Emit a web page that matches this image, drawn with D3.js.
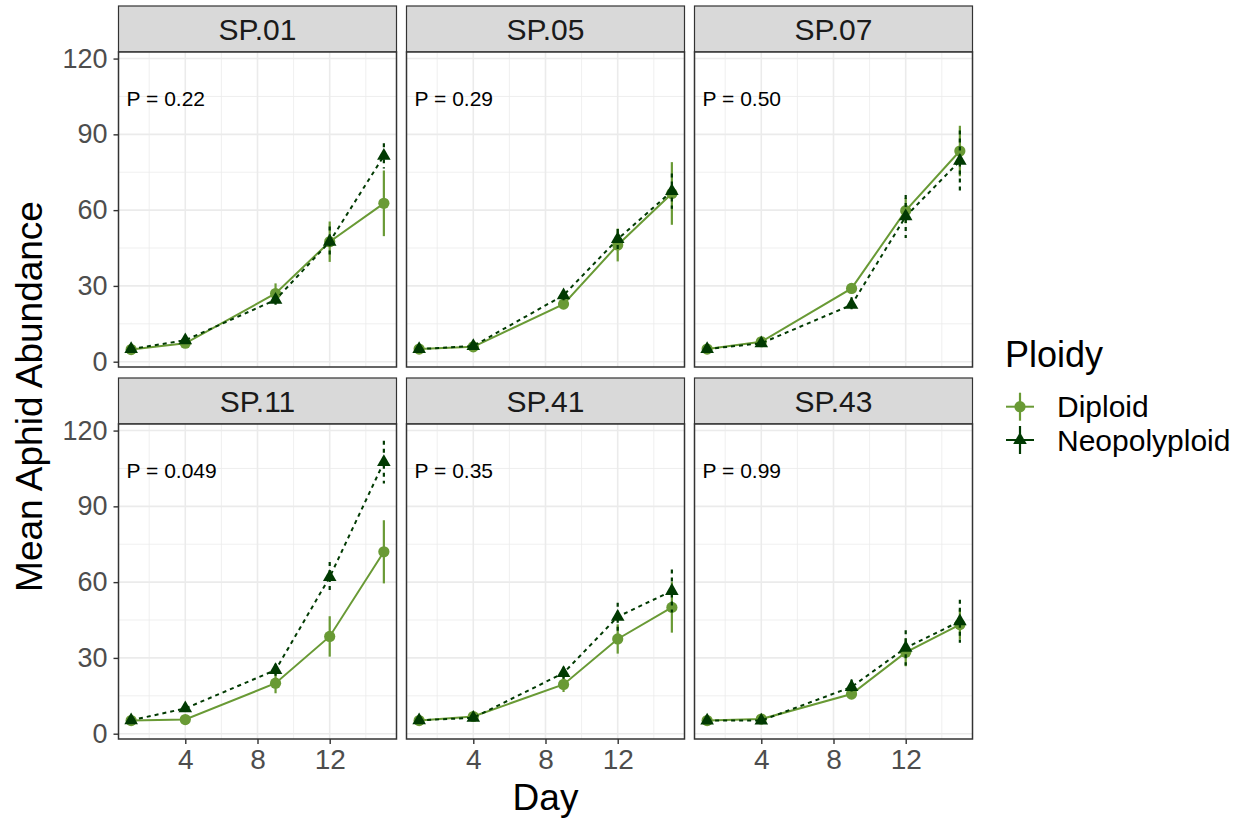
<!DOCTYPE html>
<html>
<head>
<meta charset="utf-8">
<script src="https://cdn.jsdelivr.net/npm/d3@7"></script>
<style>
  body { margin: 0; background: #fff; }
  text { font-family: "Liberation Sans", Arial, sans-serif; }
</style>
</head>
<body>
<div id="chart"></div>
<script>
// facet names and p-value labels
var panels = ["SP.01", "SP.05", "SP.07", "SP.11", "SP.41", "SP.43"];
var pLabels = ["P = 0.22", "P = 0.29", "P = 0.50", "P = 0.049", "P = 0.35", "P = 0.99"];

var days = [1, 4, 9, 12, 15];
var xTicks = [4, 8, 12];
var xMinor = [2, 6, 10, 14];
var yTicks = [0, 30, 60, 90, 120];
var yMinor = [15, 45, 75, 105];

// mean aphid abundance and standard error, one row per panel
var diploidMean = [
  [4.8, 7.3, 27.0, 47.5, 62.7],
  [5.0, 5.9, 22.8, 46.2, 66.6],
  [5.0, 7.9, 29.0, 59.8, 83.4],
  [5.2, 5.6, 20.0, 38.5, 72.0],
  [5.2, 6.8, 19.5, 37.5, 50.0],
  [5.2, 5.8, 15.7, 32.2, 43.2]
];
var diploidSE = [
  [0.8, 1.0, 4.0, 8.0, 13.0],
  [0.6, 0.8, 2.0, 6.5, 12.4],
  [0.6, 1.0, 2.0, 5.0, 10.0],
  [0.6, 0.8, 4.0, 8.0, 12.5],
  [0.6, 0.8, 3.0, 5.8, 10.0],
  [0.6, 0.8, 2.0, 5.5, 6.0]
];
var neoMean = [
  [5.0, 8.5, 24.5, 47.5, 81.5],
  [5.0, 6.2, 26.3, 48.5, 67.5],
  [5.0, 7.3, 22.5, 57.5, 79.5],
  [5.3, 10.0, 25.2, 62.0, 107.5],
  [5.3, 6.3, 24.0, 46.3, 56.5],
  [5.2, 5.2, 18.5, 34.0, 44.5]
];
var neoSE = [
  [0.8, 1.0, 2.0, 6.0, 5.0],
  [0.6, 0.8, 2.0, 4.0, 7.0],
  [0.6, 1.0, 3.0, 8.5, 12.0],
  [0.6, 1.0, 2.5, 6.0, 8.5],
  [0.6, 0.8, 2.5, 5.5, 8.5],
  [0.6, 0.8, 3.0, 7.0, 8.5]
];

var groups = ["Diploid", "Neopolyploid"];
var colors = { Diploid: "#699a35", Neopolyploid: "#013a02" };

var width = 1243;
var height = 818;
var panelW = 278;
var panelH = 315;
var stripH = 46;
var colLeft = [118.5, 406.5, 694.5];
var rowTop = [6, 378];

var xScale = d3.scaleLinear().domain([0.3, 15.7]).range([0, panelW]);
var yScale = d3.scaleLinear().domain([-2.1, 122.6]).range([panelH, 0]);

var svg = d3.select("#chart")
  .append("svg")
  .attr("width", width)
  .attr("height", height);

var symTri = d3.symbol().type(d3.symbolTriangle).size(80);
var line = d3.line()
  .x(function (d) { return xScale(d.day); })
  .y(function (d) { return yScale(d.mean); });

panels.forEach(function (name, i) {
  var col = i % 3;
  var row = Math.floor(i / 3);
  var g = svg.append("g")
    .attr("transform", "translate(" + colLeft[col] + "," + (rowTop[row] + stripH) + ")");

  // strip
  g.append("rect")
    .attr("x", 0).attr("y", -stripH)
    .attr("width", panelW).attr("height", stripH)
    .attr("fill", "#d9d9d9").attr("stroke", "#333333").attr("stroke-width", 1.2);
  g.append("text")
    .attr("x", panelW / 2).attr("y", -stripH / 2 + 10.5)
    .attr("text-anchor", "middle")
    .attr("font-size", 30).attr("fill", "#1a1a1a")
    .text(name);

  // grid
  g.append("rect").attr("width", panelW).attr("height", panelH).attr("fill", "#fff");
  g.selectAll(".ymin").data(yMinor).enter().append("line")
    .attr("x1", 0).attr("x2", panelW)
    .attr("y1", yScale).attr("y2", yScale)
    .attr("stroke", "#ebebeb").attr("stroke-width", 0.8);
  g.selectAll(".xmin").data(xMinor).enter().append("line")
    .attr("y1", 0).attr("y2", panelH)
    .attr("x1", xScale).attr("x2", xScale)
    .attr("stroke", "#ebebeb").attr("stroke-width", 0.8);
  g.selectAll(".ymaj").data(yTicks).enter().append("line")
    .attr("x1", 0).attr("x2", panelW)
    .attr("y1", yScale).attr("y2", yScale)
    .attr("stroke", "#ebebeb").attr("stroke-width", 1.6);
  g.selectAll(".xmaj").data(xTicks).enter().append("line")
    .attr("y1", 0).attr("y2", panelH)
    .attr("x1", xScale).attr("x2", xScale)
    .attr("stroke", "#ebebeb").attr("stroke-width", 1.6);

  var dip = days.map(function (d, j) {
    return { day: d, mean: diploidMean[i][j], se: diploidSE[i][j] };
  });
  var neo = days.map(function (d, j) {
    return { day: d, mean: neoMean[i][j], se: neoSE[i][j] };
  });

  // diploid series
  g.append("path").datum(dip)
    .attr("d", line).attr("fill", "none")
    .attr("stroke", colors.Diploid).attr("stroke-width", 2);
  g.selectAll(".dipErr").data(dip).enter().append("line")
    .attr("x1", function (d) { return xScale(d.day); })
    .attr("x2", function (d) { return xScale(d.day); })
    .attr("y1", function (d) { return yScale(d.mean - d.se); })
    .attr("y2", function (d) { return yScale(d.mean + d.se); })
    .attr("stroke", colors.Diploid).attr("stroke-width", 2.2);
  g.selectAll(".dipPt").data(dip).enter().append("circle")
    .attr("cx", function (d) { return xScale(d.day); })
    .attr("cy", function (d) { return yScale(d.mean); })
    .attr("r", 5.6).attr("fill", colors.Diploid);

  // neopolyploid series
  g.append("path").datum(neo)
    .attr("d", line).attr("fill", "none")
    .attr("stroke", colors.Neopolyploid).attr("stroke-width", 2)
    .attr("stroke-dasharray", "4,4");
  g.selectAll(".neoErr").data(neo).enter().append("line")
    .attr("x1", function (d) { return xScale(d.day); })
    .attr("x2", function (d) { return xScale(d.day); })
    .attr("y1", function (d) { return yScale(d.mean + d.se); })
    .attr("y2", function (d) { return yScale(d.mean - d.se); })
    .attr("stroke", colors.Neopolyploid).attr("stroke-width", 2.2)
    .attr("stroke-dasharray", "4,4");
  g.selectAll(".neoPt").data(neo).enter().append("path")
    .attr("d", symTri)
    .attr("transform", function (d) {
      return "translate(" + xScale(d.day) + "," + yScale(d.mean) + ")";
    })
    .attr("fill", colors.Neopolyploid);

  // p value
  g.append("text")
    .attr("x", xScale(0.75)).attr("y", yScale(104) + 7.5)
    .attr("font-size", 21).attr("fill", "#000")
    .text(pLabels[i]);

  // border
  g.append("rect").attr("width", panelW).attr("height", panelH)
    .attr("fill", "none").attr("stroke", "#333333").attr("stroke-width", 1.5);

  if (col === 0) {
    var yAxis = d3.axisLeft(yScale).tickValues(yTicks).tickSize(5).tickPadding(6);
    var gy = g.append("g").call(yAxis);
    gy.select(".domain").remove();
    gy.selectAll(".tick line").attr("stroke", "#333333").attr("stroke-width", 1.4);
    gy.selectAll(".tick text").attr("font-size", 27).attr("fill", "#4d4d4d")
      .attr("font-family", "Liberation Sans, Arial, sans-serif");
  }
  if (row === 1) {
    var xAxis = d3.axisBottom(xScale).tickValues(xTicks).tickSize(5).tickPadding(5);
    var gx = g.append("g").attr("transform", "translate(0," + panelH + ")").call(xAxis);
    gx.select(".domain").remove();
    gx.selectAll(".tick line").attr("stroke", "#333333").attr("stroke-width", 1.4);
    gx.selectAll(".tick text").attr("font-size", 28).attr("fill", "#4d4d4d")
      .attr("font-family", "Liberation Sans, Arial, sans-serif");
  }
});

// axis titles
svg.append("text")
  .attr("x", (colLeft[0] + colLeft[2] + panelW) / 2).attr("y", 810)
  .attr("text-anchor", "middle").attr("font-size", 37).attr("fill", "#000")
  .text("Day");
svg.append("text")
  .attr("transform", "translate(42," + ((rowTop[0] + rowTop[1] + stripH + panelH) / 2 + 24) + ") rotate(-90)")
  .attr("text-anchor", "middle").attr("font-size", 37).attr("fill", "#000")
  .text("Mean Aphid Abundance");

// legend
var legend = svg.append("g").attr("transform", "translate(1005,0)");
legend.append("text")
  .attr("x", 0).attr("y", 367)
  .attr("font-size", 36).attr("fill", "#000")
  .text("Ploidy");

var keyY = [406.7, 440];
groups.forEach(function (grp, k) {
  var kg = legend.append("g").attr("transform", "translate(15," + keyY[k] + ")");
  kg.append("line").attr("x1", -14).attr("x2", 14)
    .attr("stroke", colors[grp]).attr("stroke-width", 2);
  kg.append("line").attr("y1", -14).attr("y2", 14)
    .attr("stroke", colors[grp]).attr("stroke-width", 2.2);
  if (grp === "Diploid") {
    kg.append("circle").attr("r", 5.6).attr("fill", colors[grp]);
  } else {
    kg.append("path").attr("d", symTri).attr("fill", colors[grp]);
  }
  legend.append("text")
    .attr("x", 52).attr("y", keyY[k] + 10.5)
    .attr("font-size", 30).attr("fill", "#000")
    .text(grp);
});
</script>
</body>
</html>
